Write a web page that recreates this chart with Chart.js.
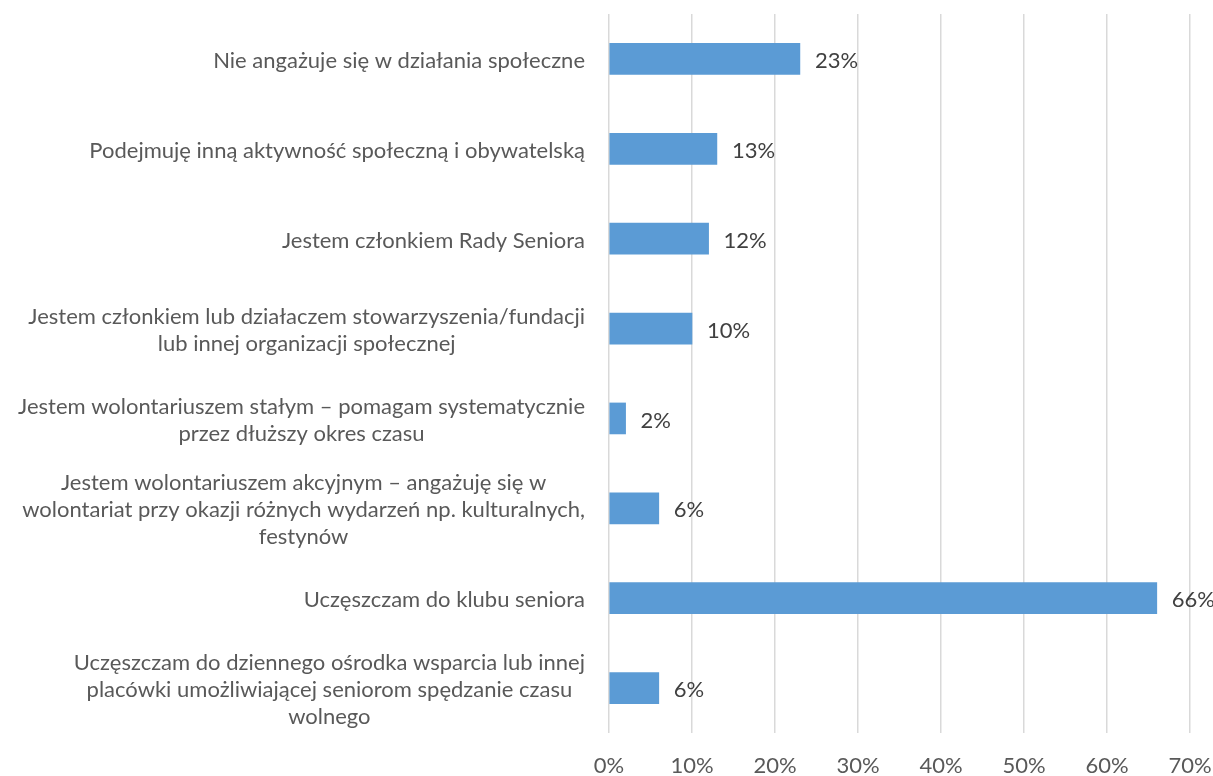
<!DOCTYPE html>
<html lang="pl">
<head>
<meta charset="UTF-8">
<title>Aktywność społeczna seniorów</title>
<script src="https://cdn.jsdelivr.net/npm/chart.js"></script>
<style>
    html, body { margin: 0; padding: 0; background: #ffffff; }
</style>
</head>
<body>
<canvas id="wykres" width="1213" height="776"></canvas>
<script>
    // kategorie (linie jak w oryginale)
    const kategorie = [
        ["Nie angażuje się w działania społeczne"],
        ["Podejmuję inną aktywność społeczną i obywatelską"],
        ["Jestem członkiem Rady Seniora"],
        ["Jestem członkiem lub działaczem stowarzyszenia/fundacji", "lub innej organizacji społecznej"],
        ["Jestem wolontariuszem stałym – pomagam systematycznie", "przez dłuższy okres czasu"],
        ["Jestem wolontariuszem akcyjnym – angażuję się w", "wolontariat przy okazji różnych wydarzeń np. kulturalnych,", "festynów"],
        ["Uczęszczam do klubu seniora"],
        ["Uczęszczam do dziennego ośrodka wsparcia lub innej", "placówki umożliwiającej seniorom spędzanie czasu", "wolnego"]
    ];
    const wartosci = [23, 13, 12, 10, 2, 6, 66, 6];
    const osX = [0, 10, 20, 30, 40, 50, 60, 70];

    const FONT = "Lato, 'Open Sans', sans-serif";
    const ROZMIAR = 22;

    // etykiety kategorii: blok wyrównany do prawej, linie wyśrodkowane
    const etykietyKategorii = {
        id: "etykietyKategorii",
        afterDraw(chart) {
            const ctx = chart.ctx;
            const y = chart.scales.y;
            const prawa = chart.chartArea.left - 24;
            ctx.save();
            ctx.font = ROZMIAR + "px " + FONT;
            ctx.fillStyle = "#595959";
            ctx.textAlign = "center";
            ctx.textBaseline = "middle";
            kategorie.forEach((linie, i) => {
                const szer = Math.max(...linie.map(l => ctx.measureText(l).width));
                const srodek = prawa - szer / 2;
                const yc = y.getPixelForValue(i) + 2;
                const h = 27;
                linie.forEach((l, j) => {
                    ctx.fillText(l, srodek, yc + (j - (linie.length - 1) / 2) * h);
                });
            });
            ctx.restore();
        }
    };

    // wartości przy słupkach
    const etykietyWartosci = {
        id: "etykietyWartosci",
        afterDatasetsDraw(chart) {
            const ctx = chart.ctx;
            const meta = chart.getDatasetMeta(0);
            ctx.save();
            ctx.font = ROZMIAR + "px " + FONT;
            ctx.fillStyle = "#404040";
            ctx.textAlign = "left";
            ctx.textBaseline = "middle";
            meta.data.forEach((bar, i) => {
                ctx.fillText(wartosci[i] + "%", bar.x + 15, bar.y + 2);
            });
            ctx.restore();
        }
    };

    new Chart(document.getElementById("wykres"), {
        type: "bar",
        data: {
            labels: kategorie.map(k => k.join(" ")),
            datasets: [{
                data: wartosci,
                backgroundColor: "#5B9BD5",
                borderWidth: 0,
                barThickness: 31
            }]
        },
        options: {
            indexAxis: "y",
            responsive: false,
            animation: false,
            devicePixelRatio: 1,
            layout: { padding: { top: 14, right: 0, bottom: 0, left: 0 } },
            plugins: {
                legend: { display: false },
                tooltip: { enabled: false }
            },
            scales: {
                x: {
                    min: 0,
                    max: 70,
                    afterBuildTicks: s => { s.ticks = osX.map(v => ({ value: v })); },
                    afterFit: s => { s.height = 43; s.paddingRight = 23; },
                    grid: { color: "#d9d9d9", lineWidth: 1.5, drawTicks: false },
                    border: { display: false },
                    ticks: {
                        padding: 20,
                        color: "#595959",
                        font: { family: FONT, size: ROZMIAR },
                        callback: v => v + "%"
                    }
                },
                y: {
                    grid: { display: false },
                    border: { display: false },
                    ticks: { display: false },
                    afterFit: s => { s.width = 609; }
                }
            }
        },
        plugins: [etykietyKategorii, etykietyWartosci]
    });
</script>
</body>
</html>
